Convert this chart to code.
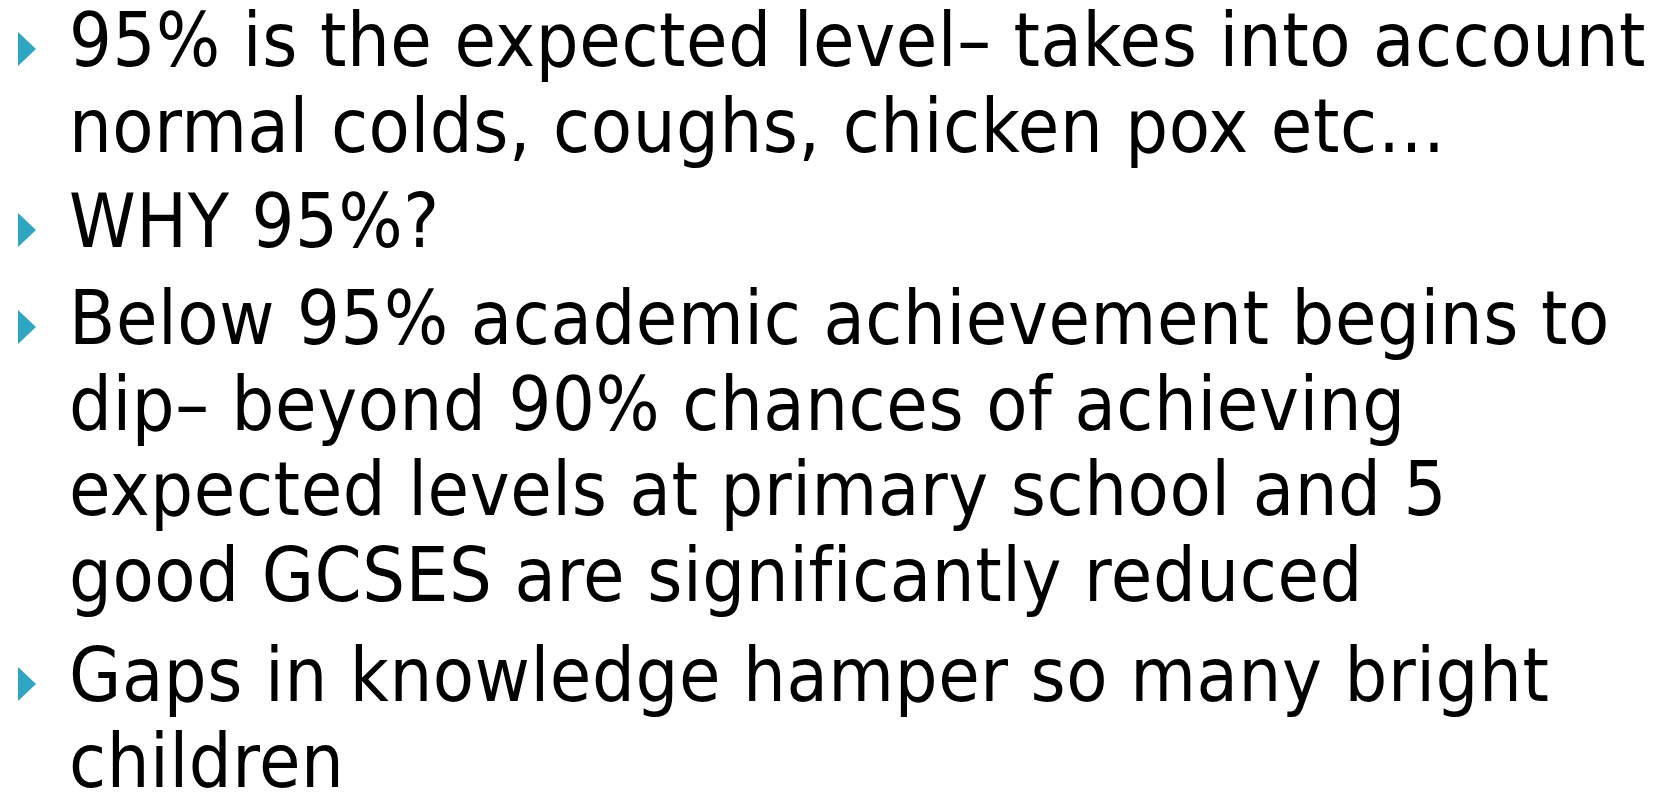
<!DOCTYPE html>
<html lang="en">
<head>
    <meta charset="UTF-8">
    <script src="https://cdn.jsdelivr.net/npm/chart.js"></script>
    <title>95% attendance</title>
    <style type="text/css">
        html, body {
            margin: 0;
            padding: 0;
            background: #fff;
            width: 1667px;
            height: 792px;
            overflow: hidden;
        }
        #slide {
            position: relative;
            width: 1667px;
            height: 792px;
        }
        .item {
            position: relative;
            margin: 0;
            padding-left: 69px;
            font-family: "DejaVu Sans Condensed", "DejaVu Sans", sans-serif;
            font-size: 75px;
            letter-spacing: 0.6px;
            line-height: 85.5px;
            color: #000;
            white-space: nowrap;
        }
        .item::before {
            content: "";
            position: absolute;
            left: 18px;
            top: 34px;
            width: 0;
            height: 0;
            border-top: 17px solid transparent;
            border-bottom: 17px solid transparent;
            border-left: 18px solid #2fa5c2;
        }
    </style>
</head>
<body>
    <div id="slide"></div>
</body>
<script>
// bullet points, one array entry per wrapped line as in the slide
var bullet1 = ["95% is the expected level\u2013 takes into account", "normal colds, coughs, chicken pox etc\u2026"];
var bullet2 = ["WHY 95%?"];
var bullet3 = ["Below 95% academic achievement begins to", "dip\u2013 beyond 90% chances of achieving", "expected levels at primary school and 5", "good GCSES are significantly reduced"];
var bullet4 = ["Gaps in knowledge hamper so many bright", "children"];
var gaps = [-1.7, 10, 11.5, 15];

var slide = document.getElementById('slide');
[bullet1, bullet2, bullet3, bullet4].forEach(function (lines, i) {
    var p = document.createElement('p');
    p.className = 'item';
    p.style.marginTop = gaps[i] + 'px';
    lines.forEach(function (t, j) {
        if (j > 0) p.appendChild(document.createElement('br'));
        p.appendChild(document.createTextNode(t));
    });
    slide.appendChild(p);
});
</script>
</html>
